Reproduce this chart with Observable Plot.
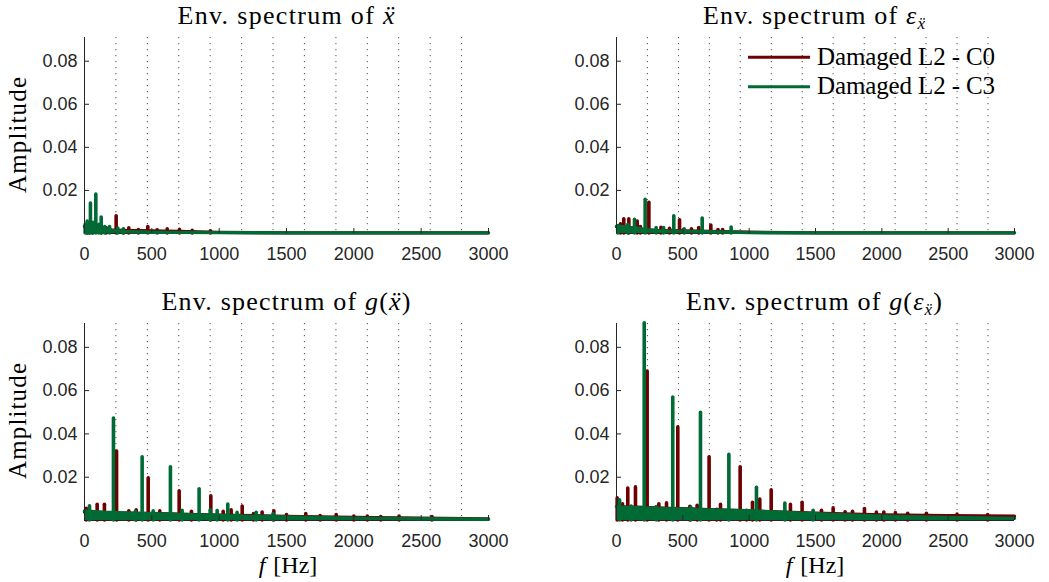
<!DOCTYPE html>
<html><head><meta charset="utf-8">
<script src="https://cdn.jsdelivr.net/npm/d3@7"></script>
<script src="https://cdn.jsdelivr.net/npm/@observablehq/plot@0.6"></script>
<style>
html,body{margin:0;padding:0;background:#fff;}
#fig{position:relative;width:1049px;height:582px;overflow:hidden;background:#fff;}
#fig .panel{position:absolute;}
#overlay{position:absolute;left:0;top:0;pointer-events:none;}
</style></head><body><div id="fig"></div>
<script>
// ---------- data ----------
const seriesNames = ["Damaged L2 - C0", "Damaged L2 - C3"];
const seriesColors = ["#6e0000", "#006a35"];
const xTicks = [0, 500, 1000, 1500, 2000, 2500, 3000];
const yTicks = [0.02, 0.04, 0.06, 0.08];
const harmonics = [233, 467, 700, 933, 1167, 1400, 1633, 1867, 2100, 2333, 2567, 2800];
const floorFreqs = [0, 50, 100, 150, 200, 300, 400, 500, 700, 1000, 1500, 2000, 2500, 3000];

// Panel 1: envelope spectrum of x''
const accC0Peaks = [[20,0.0040],[35,0.0045],[60,0.0040],[125,0.0030],[160,0.0025],[235,0.0080],[290,0.0018],[329,0.0024],[400,0.0016],[470,0.0030],[540,0.0015],[614,0.0019],[705,0.0017],[800,0.0012],[935,0.0010]];
const accC0Floor = [0.0032,0.0030,0.0024,0.0020,0.0016,0.0013,0.0013,0.0012,0.0010,0.0005,0.0003,0.0003,0.0003,0.0003];
const accC3Peaks = [[5,0.0040],[20,0.0055],[44,0.0139],[62,0.0050],[84,0.0181],[105,0.0040],[124,0.0074],[150,0.0030],[186,0.0030],[247,0.0023],[287,0.0018]];
const accC3Floor = [0.0034,0.0036,0.0030,0.0022,0.0014,0.0009,0.0007,0.0006,0.0005,0.0004,0.0003,0.0003,0.0003,0.0003];

// Panel 2: envelope spectrum of eps_x''
const epsC0Peaks = [[30,0.0043],[55,0.0066],[93,0.0066],[156,0.0056],[180,0.0030],[244,0.0143],[335,0.0027],[400,0.0022],[475,0.0061],[565,0.0020],[620,0.0025],[711,0.0037],[765,0.0016],[800,0.0016]];
const epsC0Floor = [0.0032,0.0030,0.0026,0.0022,0.0017,0.0014,0.0013,0.0012,0.0010,0.0006,0.0003,0.0003,0.0003,0.0003];
const epsC3Peaks = [[10,0.0035],[85,0.0040],[136,0.0064],[216,0.0157],[299,0.0025],[355,0.0025],[432,0.0080],[510,0.0020],[646,0.0069],[864,0.0028]];
const epsC3Floor = [0.0034,0.0032,0.0028,0.0026,0.0020,0.0013,0.0011,0.0010,0.0008,0.0004,0.0003,0.0003,0.0003,0.0003];

// Panel 3: envelope spectrum of g(x'')
const gAccC0Peaks = [[13,0.0054],[94,0.0073],[148,0.0073],[238,0.0319],[329,0.0043],[384,0.0047],[473,0.0195],[559,0.0043],[703,0.0135],[794,0.0040],[938,0.0112],[1030,0.0040],[1089,0.0047],[1171,0.0065],[1255,0.0030],[1319,0.0037],[1406,0.0043],[1500,0.0025],[1643,0.0030],[1750,0.0020],[1869,0.0025],[2000,0.0018],[2100,0.0018],[2200,0.0016],[2336,0.0018],[2580,0.0016]];
const gAccC0Floor = [0.0040,0.0038,0.0037,0.0036,0.0035,0.0034,0.0033,0.0032,0.0029,0.0025,0.0019,0.0014,0.0011,0.0007];
const gAccC3Peaks = [[37,0.0066],[215,0.0471],[378,0.0040],[428,0.0292],[510,0.0043],[638,0.0246],[725,0.0045],[851,0.0144],[933,0.0047],[985,0.0044],[1064,0.0074],[1133,0.0035],[1275,0.0036],[1400,0.0030]];
const gAccC3Floor = [0.0044,0.0042,0.0040,0.0038,0.0037,0.0035,0.0033,0.0031,0.0028,0.0023,0.0016,0.0011,0.0008,0.0006];

// Panel 4: envelope spectrum of g(eps_x'')
const gEpsC0Peaks = [[5,0.0102],[45,0.0075],[85,0.0148],[143,0.0153],[231,0.0688],[319,0.0075],[377,0.0079],[462,0.0430],[553,0.0063],[608,0.0068],[698,0.0292],[755,0.0050],[784,0.0072],[932,0.0246],[980,0.0045],[1025,0.0082],[1080,0.0097],[1166,0.0139],[1311,0.0072],[1399,0.0082],[1545,0.0045],[1633,0.0056],[1723,0.0038],[1779,0.0040],[1869,0.0053],[1959,0.0037],[2015,0.0037],[2102,0.0034],[2195,0.0031],[2336,0.0031],[2567,0.0027],[2798,0.0025]];
const gEpsC0Floor = [0.0064,0.0063,0.0062,0.0061,0.0060,0.0058,0.0056,0.0054,0.0050,0.0044,0.0034,0.0026,0.0022,0.0020];
const gEpsC3Peaks = [[23,0.0093],[110,0.0065],[300,0.0062],[560,0.0060],[1269,0.0078],[209,0.0911],[424,0.0568],[633,0.0498],[847,0.0303],[1055,0.0151],[1482,0.0045]];
const gEpsC3Floor = [0.0064,0.0062,0.0060,0.0059,0.0058,0.0056,0.0055,0.0053,0.0049,0.0045,0.0031,0.0020,0.0014,0.0010];

// ---------- layout ----------
const panels = [
  {left:0,   top:0,   width:520, height:290, mt:37, mb:57, mr:32, series:[[accC0Peaks,accC0Floor],[accC3Peaks,accC3Floor]]},
  {left:532, top:0,   width:517, height:290, mt:37, mb:57, mr:35, series:[[epsC0Peaks,epsC0Floor],[epsC3Peaks,epsC3Floor]]},
  {left:0,   top:290, width:520, height:292, mt:33, mb:62, mr:32, series:[[gAccC0Peaks,gAccC0Floor],[gAccC3Peaks,gAccC3Floor]]},
  {left:532, top:290, width:517, height:292, mt:33, mb:62, mr:35, series:[[gEpsC0Peaks,gEpsC0Floor],[gEpsC3Peaks,gEpsC3Floor]]}
];

const fig = document.getElementById("fig");
panels.forEach(p => {
  const marks = [
    Plot.ruleX(harmonics, {stroke:"#262626", strokeOpacity:0.8, strokeWidth:1, strokeDasharray:"1.2,4.8"}),
    Plot.ruleY([0], {stroke:"#262626"})
  ];
  p.series.forEach(([peaks, floor], i) => {
    const fl = floorFreqs.map((f, j) => ({f, a: floor[j]}));
    marks.push(Plot.areaY(fl, {x:"f", y:"a", fill:seriesColors[i]}));
    marks.push(Plot.lineY(fl, {x:"f", y:"a", stroke:seriesColors[i], strokeWidth:3.4}));
    marks.push(Plot.ruleX(peaks, {x:d=>d[0], y1:0, y2:d=>d[1], stroke:seriesColors[i], strokeWidth:3.6, strokeLinecap:"round"}));
  });
  marks.push(Plot.ruleX([0], {stroke:"#262626", strokeWidth:1}));
  marks.push(Plot.axisX({ticks:xTicks, tickSize:-5, tickPadding:19, tickFormat:d=>String(d), label:null}));
  marks.push(Plot.axisY({ticks:yTicks, tickSize:-5, tickPadding:12, tickFormat:d=>d.toFixed(2), label:null}));
  const chart = Plot.plot({
    width:p.width, height:p.height,
    marginLeft:84, marginRight:p.mr, marginTop:p.mt, marginBottom:p.mb,
    x:{domain:[0,3000]}, y:{domain:[0,0.091]},
    style:{fontFamily:"'Liberation Sans', Arial, sans-serif", fontSize:"18px", color:"#262626", background:"transparent", overflow:"visible"},
    marks
  });
  const div = document.createElement("div");
  div.className = "panel";
  div.style.left = p.left + "px"; div.style.top = p.top + "px";
  div.style.width = p.width + "px"; div.style.height = p.height + "px";
  div.appendChild(chart);
  fig.appendChild(div);
});

// ---------- text overlay ----------
const serif = "'Liberation Serif', 'Times New Roman', serif";
const ov = `
<svg id="overlay" width="1049" height="582" xmlns="http://www.w3.org/2000/svg" font-family="${serif}" fill="#000">
  <text x="286" y="24" font-size="26" text-anchor="middle" textLength="217" lengthAdjust="spacing">Env. spectrum of <tspan font-style="italic">ẍ</tspan></text>
  <text x="814" y="24" font-size="26" text-anchor="middle" textLength="222" lengthAdjust="spacing">Env. spectrum of <tspan font-style="italic">ε</tspan><tspan font-style="italic" font-size="17" dy="5">ẍ</tspan></text>
  <text x="286" y="310" font-size="26" text-anchor="middle" textLength="249" lengthAdjust="spacing">Env. spectrum of <tspan font-style="italic">g</tspan>(<tspan font-style="italic">ẍ</tspan>)</text>
  <text x="814" y="310" font-size="26" text-anchor="middle" textLength="256" lengthAdjust="spacing">Env. spectrum of <tspan font-style="italic">g</tspan>(<tspan font-style="italic">ε</tspan><tspan font-style="italic" font-size="17" dy="5">ẍ</tspan><tspan dy="-5">)</tspan></text>
  <text transform="translate(26,135) rotate(-90)" font-size="25" text-anchor="middle" textLength="116" lengthAdjust="spacing">Amplitude</text>
  <text transform="translate(26,421) rotate(-90)" font-size="25" text-anchor="middle" textLength="116" lengthAdjust="spacing">Amplitude</text>
  <text x="288" y="573" font-size="24" text-anchor="middle"><tspan font-style="italic">f</tspan><tspan dx="8">[Hz]</tspan></text>
  <text x="815" y="573" font-size="24" text-anchor="middle"><tspan font-style="italic">f</tspan><tspan dx="8">[Hz]</tspan></text>
  ${seriesNames.map((n, i) => `
  <line x1="748" x2="810" y1="${57.3 + i*29.4}" y2="${57.3 + i*29.4}" stroke="${seriesColors[i]}" stroke-width="3"/>
  <text x="817" y="${65 + i*29.4}" font-size="25" textLength="178" lengthAdjust="spacing">${n}</text>`).join("")}
</svg>`;
fig.insertAdjacentHTML("beforeend", ov);
</script>
</body></html>
